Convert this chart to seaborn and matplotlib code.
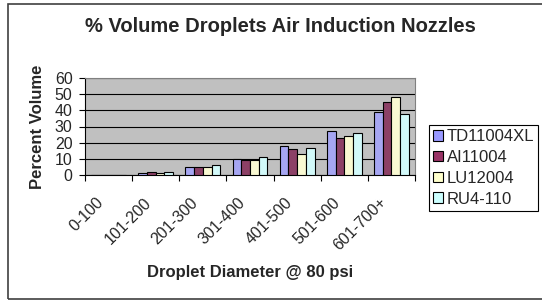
import pandas as pd
import numpy as np
import matplotlib
matplotlib.use("Agg")
import matplotlib.pyplot as plt
import matplotlib.patches as mpatches
import matplotlib.transforms as mtransforms
import seaborn as sns

# droplet size classes and % volume for each nozzle
ranges = ["0-100", "101-200", "201-300", "301-400", "401-500", "501-600", "601-700+"]
td11004xl = [0, 1, 5, 10, 18, 27, 39]
ai11004 = [0, 2, 5, 9, 16, 23, 45]
lu12004 = [0, 1, 5, 9, 13, 24, 48]
ru4_110 = [0, 2, 6, 11, 17, 26, 38]
nozzles = ["TD11004XL", "AI11004", "LU12004", "RU4-110"]
colors = ["#9999FF", "#993366", "#FFFFCC", "#CCFFFF"]

df = pd.DataFrame({
    "range": ranges * 4,
    "pct": td11004xl + ai11004 + lu12004 + ru4_110,
    "nozzle": [n for n in nozzles for _ in ranges],
})

sns.set_style("white")
plt.rcParams["font.family"] = ["Liberation Sans", "DejaVu Sans"]

fig = plt.figure(figsize=(5.42, 3.01), dpi=100)
W, H = 542, 301
ax = fig.add_axes([85 / W, 1 - 175 / H, (415 - 85) / W, (175 - 78) / H])
ax.set_facecolor("#C0C0C0")

sns.barplot(data=df, x="range", y="pct", hue="nozzle", order=ranges,
            hue_order=nozzles, palette=colors, width=0.74, gap=0,
            edgecolor="black", linewidth=0.8, ax=ax, zorder=3)

ax.set_ylim(0, 60)
ax.set_xlim(-0.5, len(ranges) - 0.5)
ax.set_yticks(range(0, 61, 10))
ax.grid(axis="y", color="black", linewidth=0.8, zorder=0)
ax.set_axisbelow(True)

# Excel style: ticks between categories, labels at centers
ax.set_xticks(np.arange(len(ranges)))
ax.set_xticklabels(ranges, rotation=45, ha="right", va="center",
                   rotation_mode="anchor", fontsize=11.5)
ax.tick_params(axis="x", which="major", length=0, pad=18)
shift = mtransforms.ScaledTranslation(-7 / 100, 0, fig.dpi_scale_trans)
for lbl in ax.get_xticklabels():
    lbl.set_transform(lbl.get_transform() + shift)
ax.set_xticks(np.arange(-0.5, len(ranges)), minor=True)
ax.tick_params(axis="x", which="minor", length=4, width=0.8, color="black",
               direction="out", bottom=True)
ax.tick_params(axis="y", length=4, width=0.8, color="black", direction="out",
               left=True, pad=5, labelsize=11.5)

for side in ["left", "bottom"]:
    ax.spines[side].set_color("black")
    ax.spines[side].set_linewidth(0.8)
for side in ["top", "right"]:
    ax.spines[side].set_color("#808080")
    ax.spines[side].set_linewidth(0.8)

ax.set_xlabel("")
ax.set_ylabel("")
fig.text(37 / W, 1 - 127 / H, "Percent Volume", rotation=90, ha="center",
         va="center", fontsize=12, fontweight="bold")
fig.text(250 / W, 1 - 273 / H, "Droplet Diameter @ 80 psi", ha="center",
         va="center", fontsize=12, fontweight="bold")
fig.text(280 / W, 1 - 27 / H, "% Volume Droplets Air Induction Nozzles",
         ha="center", va="center", fontsize=14.5, fontweight="bold")

ax.get_legend().remove()
handles = [mpatches.Patch(facecolor=c, edgecolor="black", linewidth=0.8) for c in colors]
leg = fig.legend(handles, nozzles, loc="upper left",
                 bbox_to_anchor=(429 / W, 1 - 125 / H), borderaxespad=0,
                 fontsize=12, frameon=True, fancybox=False, edgecolor="black",
                 framealpha=1, handlelength=0.6, handleheight=0.6,
                 handletextpad=0.2, labelspacing=0.35, borderpad=0.25)
leg.get_frame().set_linewidth(0.8)

# outer chart border
fig.patches.append(mpatches.Rectangle((8 / W, 2 / H), 1.0, 1 - 6 / H,
                                      transform=fig.transFigure, fill=False,
                                      edgecolor="#404040", linewidth=1.2))

fig.savefig("out.png", dpi=100)
